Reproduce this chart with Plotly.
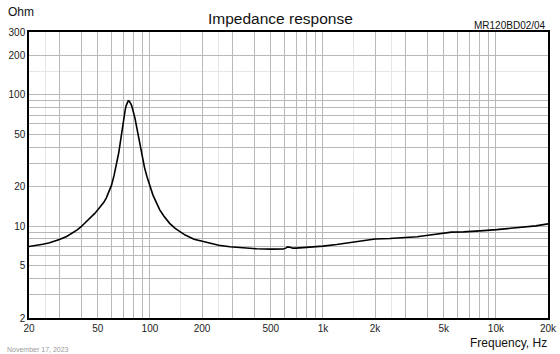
import plotly.graph_objects as go

# Impedance curve
freq_hz = [20, 22, 24, 26, 28, 30, 33, 36, 38, 40, 43, 46, 48, 50, 52, 54, 56, 58, 60, 62,
           64, 66, 67, 68, 69, 70, 71, 72, 73, 74, 75, 76, 77, 78, 79, 80, 82, 84, 86, 88,
           90, 93, 96, 100, 104, 108, 114, 120, 130, 140, 149, 160, 180, 204, 250, 290,
           350, 414, 500, 590, 610, 625, 645, 670, 700, 800, 1000, 1200, 1434, 1700, 2000,
           2440, 2780, 3500, 4160, 5000, 5540, 6500, 7400, 8500, 10100, 12000, 14360, 17000, 20000]
impedance_ohm = [7.0, 7.12, 7.27, 7.45, 7.66, 7.9, 8.35, 8.9, 9.35, 9.9, 10.8, 11.8, 12.5,
                 13.3, 14.15, 15.1, 16.4, 18.1, 20.5, 24.2, 29.2, 36.0, 41.0, 47.0, 54.0,
                 62.0, 70.0, 77.0, 83.0, 87.5, 90.0, 89.5, 87.5, 84.0, 80.0, 76.0, 66.0,
                 56.0, 47.0, 40.0, 34.0, 28.0, 24.0, 20.0, 17.3, 15.5, 13.3, 12.0, 10.5,
                 9.6, 9.06, 8.55, 7.95, 7.6, 7.15, 6.97, 6.8, 6.72, 6.68, 6.7, 6.8, 6.95,
                 6.9, 6.8, 6.8, 6.88, 7.05, 7.25, 7.5, 7.75, 7.98, 8.05, 8.12, 8.3, 8.55,
                 8.8, 9.0, 9.05, 9.1, 9.25, 9.4, 9.6, 9.8, 10.05, 10.4]

x_tickvals = [20, 50, 100, 200, 500, 1000, 2000, 5000, 10000, 20000]
x_ticktext = ["20", "50", "100", "200", "500", "1k", "2k", "5k", "10k", "20k"]
y_tickvals = [2, 5, 10, 20, 50, 100, 200, 300]
y_ticktext = ["2", "5", "10", "20", "50", "100", "200", "300"]

x_grid = [m * 10 ** e for e in range(1, 5) for m in range(1, 10) if 20 <= m * 10 ** e <= 20000]
y_grid = [m * 10 ** e for e in range(0, 3) for m in range(1, 10) if 2 <= m * 10 ** e <= 300]
x_fine = [m * 10 ** e for e in range(1, 4) for m in (1.5, 2.5) if 20 <= m * 10 ** e <= 20000]
y_fine = [150]

fig = go.Figure()
fig.add_trace(go.Scatter(x=freq_hz, y=impedance_ohm, mode="lines",
                         line=dict(color="black", width=1.6, shape="linear"),
                         hoverinfo="skip", showlegend=False))

font_family = "Liberation Sans, Arial, sans-serif"

W, H = 560, 354
l, r, t, b = 29, 12, 32, 36
pw, ph = W - l - r, H - t - b

fig.update_layout(
    width=W, height=H,
    margin=dict(l=l, r=r, t=t, b=b, autoexpand=False),
    paper_bgcolor="white", plot_bgcolor="white",
    font=dict(family=font_family, color="#222222", size=10),
    xaxis=dict(type="log", range=[1.30103, 4.30103], automargin=False,
               tickvals=x_grid,
               ticktext=[x_ticktext[x_tickvals.index(v)] if v in x_tickvals else "" for v in x_grid],
               showgrid=True, gridcolor="#b8b8b8", gridwidth=1,
               minor=dict(tickvals=x_fine, showgrid=True, gridcolor="#e6e6e6", gridwidth=1, ticklen=0),
               showline=True, linecolor="black", linewidth=1.5, mirror=True,
               ticks="", zeroline=False, tickfont=dict(size=10, color="#222222")),
    yaxis=dict(type="log", range=[0.30103, 2.4771], automargin=False,
               tickvals=y_grid,
               ticktext=[y_ticktext[y_tickvals.index(v)] if v in y_tickvals else "" for v in y_grid],
               showgrid=True, gridcolor="#b8b8b8", gridwidth=1,
               minor=dict(tickvals=y_fine, showgrid=True, gridcolor="#e6e6e6", gridwidth=1, ticklen=0),
               showline=True, linecolor="black", linewidth=1.5, mirror=True,
               ticks="", zeroline=False, tickfont=dict(size=10, color="#222222")),
)

# text placed by pixel position (converted to paper fractions)
texts = [
    ("Impedance response", 280, 18, "center", 15.5),
    ("Ohm", 6, 12, "left", 12),
    ("MR120BD02/04", 548, 25, "right", 10),
    ("Frequency, Hz", 549, 343, "right", 12),
    ("November 17, 2023", 5, 349, "left", 7),
]
ann = []
for txt, px, py, xa, size in texts:
    color = "#999999" if txt.startswith("November") else "#111111"
    ann.append(dict(text=txt, showarrow=False, font=dict(size=size, color=color),
                    xref="paper", yref="paper",
                    x=(px - l) / pw, y=(H - b - py) / ph,
                    xanchor=xa, yanchor="middle"))
fig.update_layout(annotations=ann)

fig.write_html("out.html")
